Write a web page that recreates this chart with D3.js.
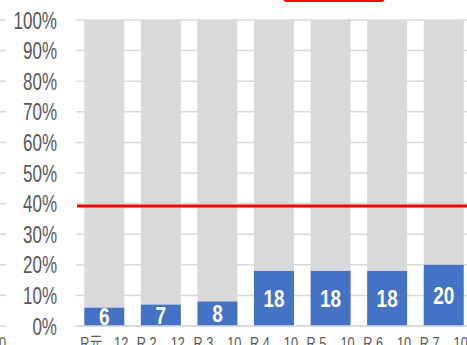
<!DOCTYPE html>
<html><head><meta charset="utf-8">
<script src="https://cdn.jsdelivr.net/npm/d3@7"></script>
<style>html,body{margin:0;padding:0;background:#fff;overflow:hidden}</style>
</head><body>
<script>
const categories = ["R元.12", "R 2.12", "R 3.10", "R 4.10", "R 5.10", "R 6.10", "R 7.10"];
const values = [6, 7, 8, 18, 18, 18, 20];
const targetValue = 39.2;
const yTicks = [0, 10, 20, 30, 40, 50, 60, 70, 80, 90, 100];

const W = 467, H = 345;
const svg = d3.select("body").append("svg").attr("width", W).attr("height", H);

const x = d3.scaleBand().domain(categories).range([76, 472]).paddingInner(0.293).paddingOuter(0.1465);
const y = d3.scaleLinear().domain([0, 100]).range([326, 20]);

const font = "'Liberation Sans', Arial, sans-serif";
const jp = "'Liberation Sans', 'Noto Sans CJK JP', sans-serif";

// partial neighbour chart gridline stubs at left edge
svg.append("g").selectAll("line").data(yTicks).join("line")
  .attr("x1", 0).attr("x2", 6).attr("y1", d => y(d)).attr("y2", d => y(d))
  .attr("stroke", "#d9d9d9").attr("stroke-width", 1.5);

// gridlines
svg.append("g").selectAll("line").data(yTicks).join("line")
  .attr("x1", 76).attr("x2", W).attr("y1", d => y(d)).attr("y2", d => y(d))
  .attr("stroke", "#d9d9d9").attr("stroke-width", 1.5);

// y labels (condensed)
svg.append("g").selectAll("text").data(yTicks).join("text")
  .attr("transform", d => `translate(57,${y(d) + 8.5}) scale(0.74,1)`)
  .attr("text-anchor", "end")
  .attr("font-family", font).attr("font-size", 23).attr("fill", "#595959")
  .text(d => d + "%");

// gray remainder bars
svg.append("g").selectAll("rect").data(values).join("rect")
  .attr("x", (d, i) => x(categories[i])).attr("width", x.bandwidth())
  .attr("y", y(100)).attr("height", d => y(d) - y(100))
  .attr("fill", "#d9d9d9");

// blue bars
svg.append("g").selectAll("rect").data(values).join("rect")
  .attr("x", (d, i) => x(categories[i])).attr("width", x.bandwidth())
  .attr("y", d => y(d)).attr("height", d => y(0) - y(d))
  .attr("fill", "#4472c4");

// axis line
svg.append("line").attr("x1", 76).attr("x2", W).attr("y1", y(0)).attr("y2", y(0))
  .attr("stroke", "#d9d9d9").attr("stroke-width", 1.5);

// data labels
svg.append("g").selectAll("text").data(values).join("text")
  .attr("transform", (d, i) => `translate(${x(categories[i]) + x.bandwidth() / 2},${(y(d) + y(0)) / 2 + 8.5}) scale(0.79,1)`)
  .attr("text-anchor", "middle")
  .attr("font-family", font).attr("font-weight", "bold").attr("font-size", 24)
  .attr("fill", "#fff")
  .text(d => d);

// target line
svg.append("line").attr("x1", 77).attr("x2", W).attr("y1", y(targetValue)).attr("y2", y(targetValue))
  .attr("stroke", "#ff0000").attr("stroke-width", 3);

// x labels (split prefix / month)
const xl = svg.append("g");
categories.forEach(c => {
  const [pre, suf] = c.split(".");
  const cx = x(c) + x.bandwidth() / 2;
  xl.append("text").attr("transform", `translate(${cx - 24},349) scale(0.75,1)`)
    .attr("font-family", jp).attr("font-size", 17).attr("fill", "#595959").text(pre);
  xl.append("text").attr("transform", `translate(${cx + 24},349) scale(0.75,1)`).attr("text-anchor", "end")
    .attr("font-family", font).attr("font-size", 17).attr("fill", "#595959").text(suf);
});
// neighbour chart label fragment
svg.append("text").attr("transform", "translate(6,349) scale(0.75,1)").attr("text-anchor", "end")
  .attr("font-family", font).attr("font-size", 17).attr("fill", "#595959").text("10");

// cropped legend/callout box at top
svg.append("rect").attr("x", 284).attr("y", -30).attr("width", 100).attr("height", 31)
  .attr("rx", 3).attr("fill", "none").attr("stroke", "#ff0000").attr("stroke-width", 2);
</script>
</body></html>
